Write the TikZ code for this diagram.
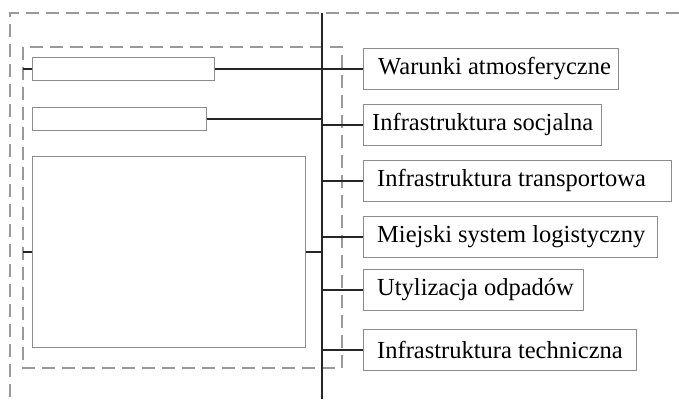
\documentclass[tikz,border=0pt]{standalone}
\usepackage{fontspec}
\setmainfont{Liberation Serif}
\begin{document}
\begin{tikzpicture}[x=1pt,y=-1pt,
  dashbox/.style={draw=black!40, line width=1.1pt, dash pattern=on 13pt off 7pt},
  conn/.style={draw=black!85, line width=1.8pt},
  emptybox/.style={draw=black!45, line width=0.9pt, rectangle, inner sep=0pt, anchor=north west},
  catbox/.style={draw=black!45, line width=0.9pt, rectangle, anchor=north west, inner sep=0pt,
     minimum height=41pt},
  cattext/.style={anchor=west, inner sep=0pt, font=\fontsize{24.5}{28}\selectfont}]
\useasboundingbox[fill=white] (0,0) rectangle (679,399);
% outer dashed frame
\coordinate (o1) at (679,13);
\coordinate (o2) at (10,13);
\coordinate (o3) at (10,399);
\draw[dashbox] (o1) -- (o2) -- (o3);
% inner dashed frame
\draw[dashbox] (23,47) rectangle (342,368);
% empty boxes
\node[emptybox, minimum width=182pt, minimum height=23pt] (b1) at (32,57) {};
\node[emptybox, minimum width=174pt, minimum height=23pt] (b2) at (32,107) {};
\node[emptybox, minimum width=273pt, minimum height=191pt] (b3) at (32,156) {};
% vertical spine
\coordinate (vtop) at (322,13);
\coordinate (vbot) at (322,399);
\draw[conn] (vtop) -- (vbot);
% category boxes
\node[catbox, minimum width=255pt] (w)  at (363,48)  {};
\node[catbox, minimum width=238pt] (is) at (363,104) {};
\node[catbox, minimum width=308pt] (it) at (363,160) {};
\node[catbox, minimum width=294pt] (ms) at (363,216) {};
\node[catbox, minimum width=220pt] (uo) at (363,269) {};
\node[catbox, minimum width=273pt] (tc) at (363,329) {};
\node[cattext] (wt)  at ([xshift=15pt]w.west)  {Warunki atmosferyczne};
\node[cattext] (ist) at ([xshift=9pt]is.west)  {Infrastruktura socjalna};
\node[cattext] (itt) at ([xshift=14pt]it.west) {Infrastruktura transportowa};
\node[cattext] (mst) at ([xshift=14pt]ms.west) {Miejski system logistyczny};
\node[cattext] (uot) at ([xshift=14pt]uo.west) {Utylizacja odpadów};
\node[cattext] (tct) at ([xshift=14pt]tc.west) {Infrastruktura techniczna};
% connectors from spine to category boxes
\draw[conn] (vtop |- w.west) -- (w.west);
\draw[conn] (vtop |- is.west) -- (is.west);
\draw[conn] (vtop |- it.west) -- (it.west);
\draw[conn] (vtop |- ms.west) -- (ms.west);
\draw[conn] (vtop |- uo.west) -- (uo.west);
\draw[conn] (vtop |- tc.west) -- (tc.west);
% connectors from empty boxes
\draw[conn] (b1.east) -- (vtop |- b1.east);
\draw[conn] (b2.east) -- (vtop |- b2.east);
\draw[conn] (b3.east) -- (vtop |- b3.east);
\draw[conn] (23,0 |- b1.west) -- (b1.west);
\draw[conn] (23,0 |- b3.west) -- (b3.west);
\end{tikzpicture}
\end{document}
